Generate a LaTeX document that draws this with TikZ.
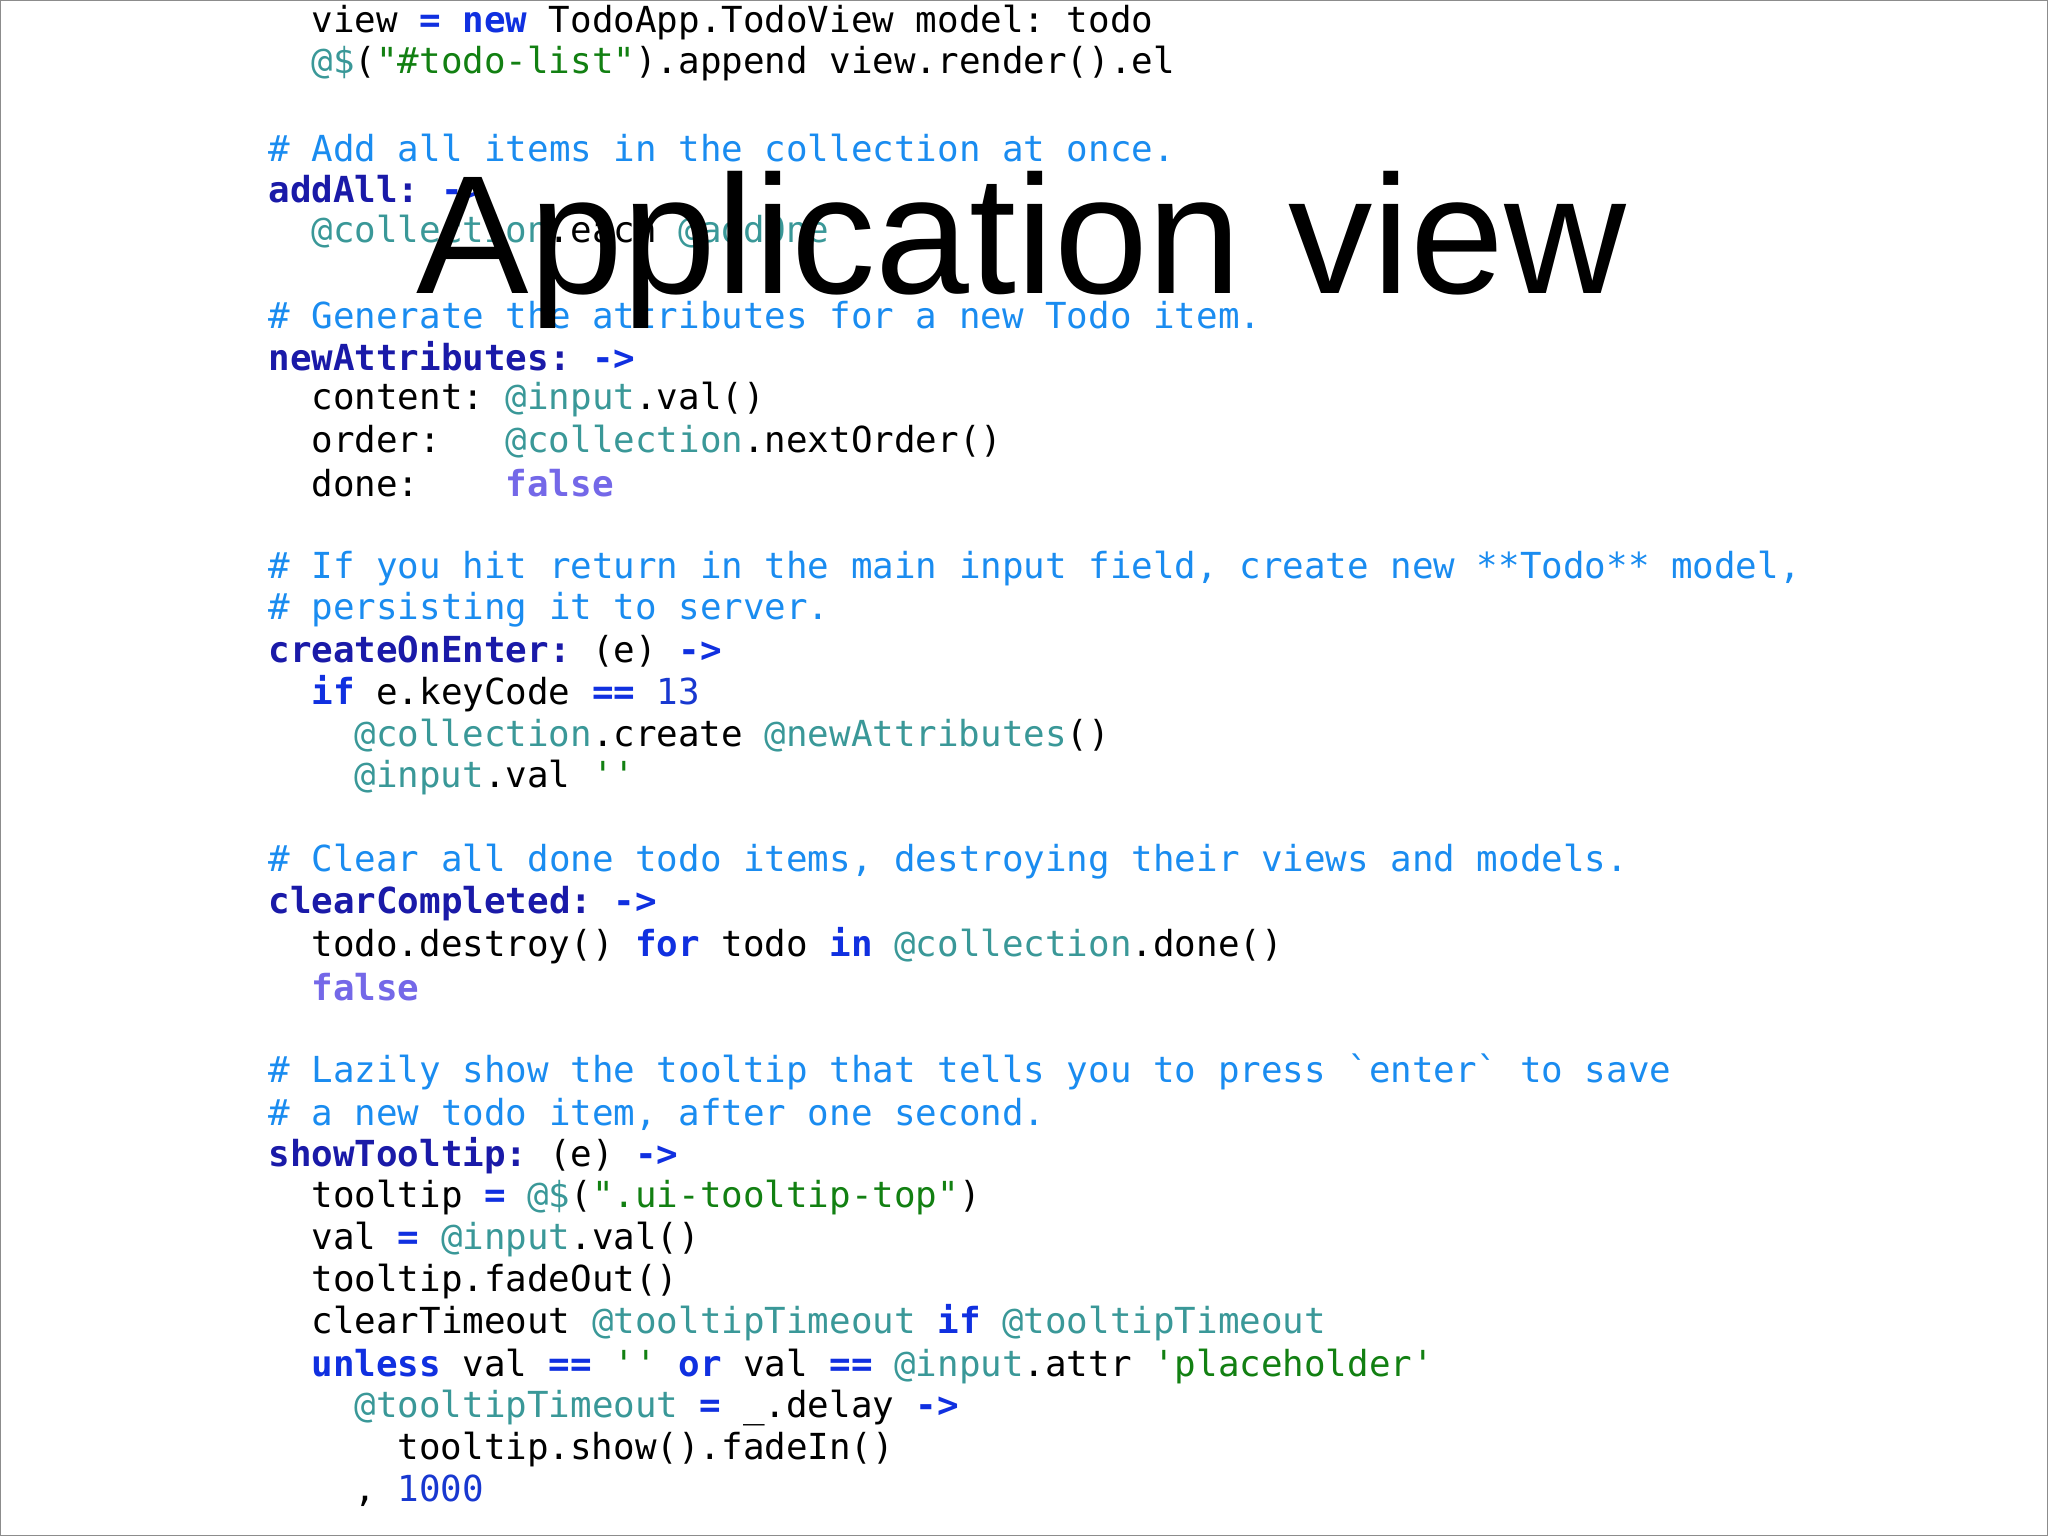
\documentclass[tikz,border=0pt]{standalone}
\usepackage{fontspec}
\setmainfont{Liberation Sans}
\newfontfamily\codefont{DejaVu Sans Mono}
\usepackage{tikz}

\definecolor{cmtblue}{HTML}{1A8CF0}
\definecolor{kwblue}{HTML}{1030E0}
\definecolor{fnblue}{HTML}{1A1AA8}
\definecolor{atteal}{HTML}{3A9898}
\definecolor{strgreen}{HTML}{128012}
\definecolor{falsepurple}{HTML}{7468E8}
\definecolor{numblue}{HTML}{1838D0}

\newcommand\cmt[1]{\textcolor{cmtblue}{#1}}
\newcommand\kw[1]{\textcolor{kwblue}{\bfseries #1}}
\newcommand\fn[1]{\textcolor{fnblue}{\bfseries #1}}
\newcommand\at[1]{\textcolor{atteal}{#1}}
\newcommand\str[1]{\textcolor{strgreen}{#1}}
\newcommand\fa[1]{\textcolor{falsepurple}{\bfseries #1}}
\newcommand\num[1]{\textcolor{numblue}{#1}}

\begin{document}
\begin{tikzpicture}[x=0.01306cm, y=-0.01306cm,
    code/.style={anchor=west, inner sep=0pt, font=\codefont\fontsize{10.2pt}{12pt}\selectfont\frenchspacing}]
    \useasboundingbox (0,0) rectangle (1568,1176);
    \draw[color=black!45, line width=0.6pt] (0,0) rectangle (1568,1176);

    % code lines, column width 16.6
    \node[code] (l1) at (238,17) {view \kw{=} \kw{new} TodoApp.TodoView model: todo};
    \node[code] (l2) at (238,49) {\at{@\$}(\str{"\#todo-list"}).append view.render().el};
    \node[code] (l3) at (205,113) {\cmt{\# Add all items in the collection at once.}};
    \node[code] (l4) at (205,145) {\fn{addAll:} \kw{->}};
    \node[code] (l5) at (238,177) {\at{@collection}.each \at{@addOne}};
    \node[code] (l6) at (205,241) {\cmt{\# Generate the attributes for a new Todo item.}};
    \node[code] (l7) at (205,273) {\fn{newAttributes:} \kw{->}};
    \node[code] (l8) at (238,306) {content: \at{@input}.val()};
    \node[code] (l9) at (238,338) {order:~~~\at{@collection}.nextOrder()};
    \node[code] (l10) at (238,370) {done:~~~~\fa{false}};
    \node[code] (l11) at (205,435) {\cmt{\# If you hit return in the main input field, create new **Todo** model,}};
    \node[code] (l12) at (205,467) {\cmt{\# persisting it to server.}};
    \node[code] (l13) at (205,499) {\fn{createOnEnter:} (e) \kw{->}};
    \node[code] (l14) at (238,531) {\kw{if} e.keyCode \kw{==} \num{13}};
    \node[code] (l15) at (271,563) {\at{@collection}.create \at{@newAttributes}()};
    \node[code] (l16) at (271,595) {\at{@input}.val \str{''}};
    \node[code] (l17) at (205,660) {\cmt{\# Clear all done todo items, destroying their views and models.}};
    \node[code] (l18) at (205,692) {\fn{clearCompleted:} \kw{->}};
    \node[code] (l19) at (238,724) {todo.destroy() \kw{for} todo \kw{in} \at{@collection}.done()};
    \node[code] (l20) at (238,756) {\fa{false}};
    \node[code] (l21) at (205,821) {\cmt{\# Lazily show the tooltip that tells you to press `enter` to save}};
    \node[code] (l22) at (205,853) {\cmt{\# a new todo item, after one second.}};
    \node[code] (l23) at (205,885) {\fn{showTooltip:} (e) \kw{->}};
    \node[code] (l24) at (238,917) {tooltip \kw{=} \at{@\$}(\str{".ui-tooltip-top"})};
    \node[code] (l25) at (238,949) {val \kw{=} \at{@input}.val()};
    \node[code] (l26) at (238,981) {tooltip.fadeOut()};
    \node[code] (l27) at (238,1013) {clearTimeout \at{@tooltipTimeout} \kw{if} \at{@tooltipTimeout}};
    \node[code] (l28) at (238,1046) {\kw{unless} val \kw{==} \str{''} \kw{or} val \kw{==} \at{@input}.attr \str{'placeholder'}};
    \node[code] (l29) at (271,1078) {\at{@tooltipTimeout} \kw{=} \_.delay \kw{->}};
    \node[code] (l30) at (304,1110) {tooltip.show().fadeIn()};
    \node[code] (l31) at (271,1141) {, \num{1000}};

    % slide title over the code
    \node[anchor=base, inner sep=0pt, font=\fontsize{48pt}{56pt}\selectfont] (title) at (782,225) {Application view};
\end{tikzpicture}
\end{document}
